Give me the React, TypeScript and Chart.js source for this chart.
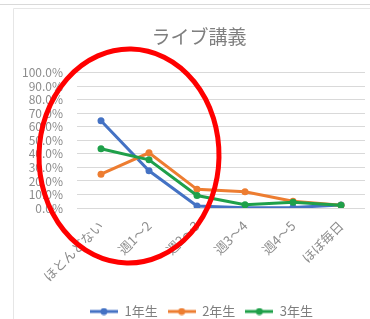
import React, { useEffect, useRef } from "react";
import { Chart, registerables } from "chart.js";

Chart.register(...registerables);

const title = "ライブ講義";
const categories = ["ほとんどない", "週1～2", "週2～3", "週3～4", "週4～5", "ほぼ毎日"];
const seriesNames = ["1年生", "2年生", "3年生"];
const year1 = [64.5, 27.5, 1.5, 0.2, 0.4, 2.2];
const year2 = [25.0, 40.8, 13.8, 12.0, 5.0, 2.0];
const year3 = [43.8, 35.6, 9.2, 2.4, 4.2, 2.0];
const colors = ["#4472C4", "#ED7D31", "#1FA04A"];

const FONT = "'Noto Sans CJK JP', 'Noto Sans', sans-serif";

function legendIcon(color: string) {
  const c = document.createElement("canvas");
  c.width = 28;
  c.height = 8;
  const ctx = c.getContext("2d")!;
  ctx.strokeStyle = color;
  ctx.lineWidth = 3;
  ctx.beginPath();
  ctx.moveTo(0, 4);
  ctx.lineTo(28, 4);
  ctx.stroke();
  ctx.fillStyle = color;
  ctx.beginPath();
  ctx.arc(14, 4, 3.5, 0, Math.PI * 2);
  ctx.fill();
  return c;
}

const framePlugin = {
  id: "frame",
  beforeDraw(chart: any) {
    const ctx = chart.ctx;
    ctx.save();
    ctx.fillStyle = "#ffffff";
    ctx.fillRect(0, 0, chart.width, chart.height);
    ctx.strokeStyle = "#d9d9d9";
    ctx.lineWidth = 1;
    ctx.beginPath();
    ctx.moveTo(0, 4.5);
    ctx.lineTo(chart.width, 4.5);
    ctx.stroke();
    ctx.strokeStyle = "#e6e6e6";
    ctx.beginPath();
    ctx.moveTo(13.5, chart.height);
    ctx.lineTo(13.5, 8.5);
    ctx.lineTo(chart.width, 8.5);
    ctx.stroke();
    ctx.restore();
  },
  afterLayout(chart: any) {
    const t = chart.titleBlock;
    if (t) {
      t.left += 19;
    }
    const l = chart.legend;
    if (l) {
      l.left += 12;
      l.right += 12;
      l.top += 9;
      l.bottom += 9;
    }
  },
  afterDraw(chart: any) {
    const ctx = chart.ctx;
    ctx.save();
    ctx.strokeStyle = "#FF0000";
    ctx.lineWidth = 5;
    ctx.beginPath();
    ctx.ellipse(129, 156, 90, 107, 0.02, 0, Math.PI * 2);
    ctx.stroke();
    ctx.restore();
  },
};

export default function App() {
  const ref = useRef<HTMLCanvasElement>(null);
  useEffect(() => {
    document.body.style.margin = "0";
    const datasets = [year1, year2, year3].map((d, i) => ({
      label: seriesNames[i],
      data: d,
      borderColor: colors[i],
      backgroundColor: colors[i],
      borderWidth: 3,
      pointRadius: 3.5,
      pointBorderWidth: 0,
      pointBackgroundColor: colors[i],
      pointStyle: "circle" as any,
      tension: 0,
      order: 3 - i,
    }));
    const chart = new Chart(ref.current!, {
      type: "line",
      data: {
        labels: categories,
        datasets: datasets as any,
      },
      options: {
        animation: false,
        responsive: false,
        layout: { padding: { left: 14, right: 5, top: 0, bottom: 0 } },
        plugins: {
          title: {
            display: true,
            text: title,
            color: "#7f7f7f",
            font: { family: FONT, size: 19, weight: "normal" as any, lineHeight: 1.2 },
            padding: { top: 25, bottom: 25 },
          },
          legend: {
            position: "bottom",
            labels: {
              color: "#7f7f7f",
              font: { family: FONT, size: 13 },
              usePointStyle: true,
              pointStyleWidth: 28,
              boxHeight: 8,
              padding: 10,
              generateLabels: () =>
                seriesNames.map((n, i) => ({
                  text: n,
                  fillStyle: colors[i],
                  strokeStyle: colors[i],
                  lineWidth: 0,
                  pointStyle: legendIcon(colors[i]),
                  datasetIndex: i,
                  hidden: false,
                  fontColor: "#7f7f7f",
                })),
            },
          },
          tooltip: { enabled: false },
        },
        scales: {
          x: {
            offset: true,
            grid: { display: false, drawTicks: false },
            border: { display: false },
            ticks: {
              color: "#8c8c8c",
              font: { family: FONT, size: 13 },
              maxRotation: 45,
              minRotation: 45,
              padding: 10,
              autoSkip: false,
            },
            afterFit: (s: any) => {
              s.height = 78;
            },
          },
          y: {
            min: 0,
            max: 100,
            grid: { color: "#d9d9d9", lineWidth: 1, drawTicks: false },
            border: { display: false },
            ticks: {
              stepSize: 10,
              autoSkip: false,
              color: "#8c8c8c",
              font: { family: FONT, size: 12 },
              padding: 14,
              callback: (v: any) => Number(v).toFixed(1) + "%",
            },
            afterFit: (s: any) => {
              s.width = 63;
            },
          },
        },
      },
      plugins: [framePlugin],
    });
    return () => chart.destroy();
  }, []);
  return (
    <div style={{ position: "fixed", left: 0, top: 0, width: 370, height: 319 }}>
      <canvas ref={ref} width={370} height={319} style={{ width: 370, height: 319 }} />
    </div>
  );
}
